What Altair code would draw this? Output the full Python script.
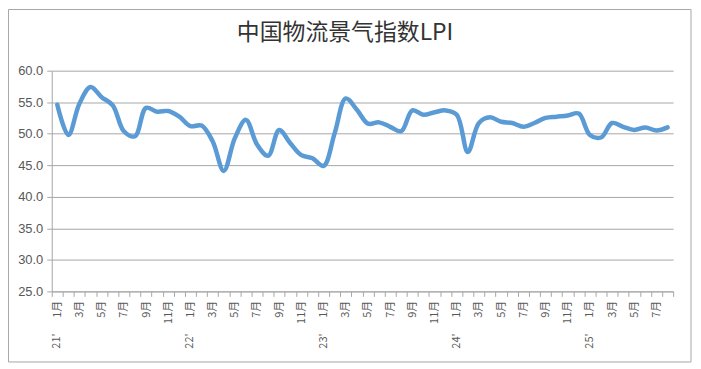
import json
import altair as alt
import pandas as pd

title_text = "中国物流景气指数LPI"
years = ["21'", "22'", "23'", "24'", "25'"]
month_names = ["1月", "2月", "3月", "4月", "5月", "6月", "7月", "8月", "9月", "10月", "11月", "12月"]
y_ticks = [25, 30, 35, 40, 45, 50, 55, 60]

# Monthly LPI, Jan 2021 - Aug 2025
lpi_2021 = [54.6, 49.8, 54.8, 57.4, 55.8, 54.5, 50.4, 49.6, 54.1, 53.5, 53.6, 52.7]
lpi_2022 = [51.2, 51.3, 48.8, 44.1, 49.3, 52.2, 48.3, 46.5, 50.6, 48.5, 46.6, 46.1]
lpi_2023 = [44.9, 50.1, 55.6, 53.8, 51.6, 51.8, 51.1, 50.4, 53.7, 53.0, 53.4, 53.7]
lpi_2024 = [53.0, 47.1, 51.7, 52.6, 51.9, 51.7, 51.1, 51.7, 52.5, 52.7, 52.9, 53.2]
lpi_2025 = [49.8, 49.4, 51.7, 51.1, 50.6, 51.0, 50.5, 51.0]

lpi = lpi_2021 + lpi_2022 + lpi_2023 + lpi_2024 + lpi_2025
n = len(lpi)
df = pd.DataFrame({"idx": list(range(n)), "lpi": lpi})
year_df = pd.DataFrame({"idx": [0, 12, 24, 36, 48], "year": years})

W, H = 625, 222
band = W / n
GRAY = "#a6a6a6"
TXT = "#595959"

tick_values = [i - 0.5 for i in range(n + 1)]
tick_labels = [month_names[i % 12] if (i % 2 == 0 and i < n) else "" for i in range(n + 1)]
label_expr = json.dumps(tick_labels, ensure_ascii=False) + "[round(datum.value + 0.5)]"

x_scale = alt.Scale(domain=[-0.5, n - 0.5], nice=False, zero=False)
y_scale = alt.Scale(domain=[25, 60], nice=False, zero=False)

x_axis = alt.Axis(values=tick_values, labelExpr=label_expr, labelAngle=270,
                  labelOffset=band / 2, labelFontSize=11, labelFont="Noto Sans CJK SC",
                  labelColor=TXT, labelPadding=4, labelOverlap=False, labelFlush=False,
                  labelBound=False, tickSize=5, tickColor=GRAY, domainColor=GRAY,
                  grid=False, title=None)
y_axis = alt.Axis(values=y_ticks, format=".1f", labelFontSize=13, labelFont="Liberation Sans",
                  labelColor=TXT, labelPadding=4, tickSize=5, tickColor=GRAY,
                  domainColor=GRAY, grid=True, gridColor=GRAY, title=None)

line = alt.Chart(df).mark_line(
    interpolate="catmull-rom", color="#5B9BD5", strokeWidth=4.5,
    strokeCap="round", strokeJoin="round"
).encode(
    x=alt.X("idx:Q", scale=x_scale, axis=x_axis),
    y=alt.Y("lpi:Q", scale=y_scale, axis=y_axis),
)

year_text = alt.Chart(year_df).mark_text(
    angle=270, fontSize=11, font="Noto Sans CJK SC", color=TXT,
    align="center", baseline="middle"
).encode(
    x=alt.X("idx:Q", scale=x_scale, axis=x_axis),
    y=alt.value(272),
    text="year:N",
)

title = alt.Chart(pd.DataFrame({"t": [title_text]})).mark_text(
    fontSize=23, font="Noto Sans CJK SC", color="#333333",
    align="center", baseline="middle"
).encode(text="t:N", x=alt.value(295), y=alt.value(-38))

border = alt.Chart(pd.DataFrame({"a": [0]})).mark_rect(
    filled=False, stroke=GRAY, strokeWidth=1
).encode(x=alt.value(-43.5), x2=alt.value(643), y=alt.value(-61.5), y2=alt.value(293))

chart = alt.layer(border, line, year_text, title).properties(
    width=W, height=H,
    autosize=alt.AutoSizeParams(type="none"),
    padding={"left": 44, "top": 62, "right": 20, "bottom": 72},
).configure_view(stroke=None)

chart.save("out.html", embed_options={"renderer": "svg", "actions": False})
